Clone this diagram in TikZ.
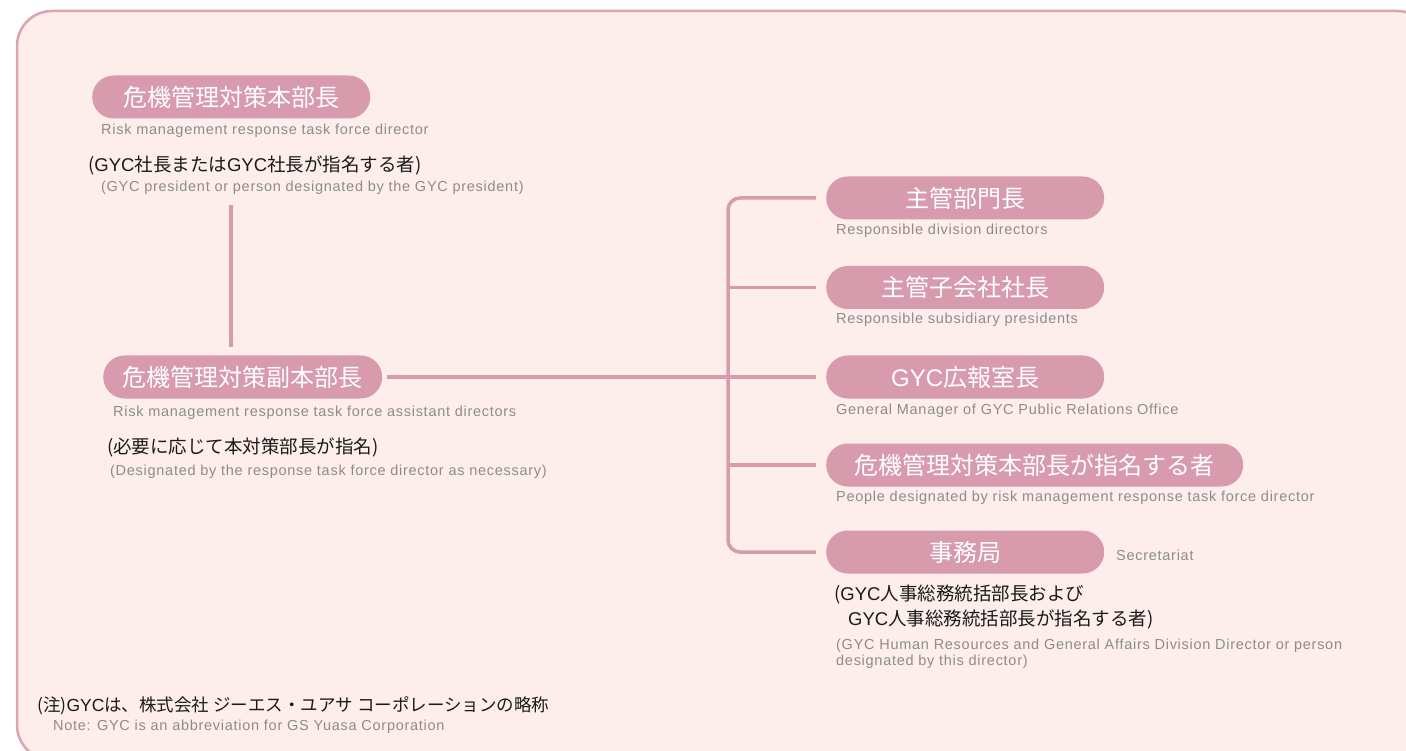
\documentclass[tikz,border=0pt]{standalone}
\usepackage{fontspec}
\setmainfont{Liberation Sans}
\newfontfamily\jp{Noto Sans CJK JP}
\newfontfamily\enf[LetterSpace=5]{Liberation Sans}
\newcommand\gyc{{\rmfamily GYC}}
\definecolor{pk}{HTML}{D79BAD}
\definecolor{frm}{HTML}{DBA3B3}
\definecolor{bgp}{HTML}{FDEEEC}
\definecolor{gr}{HTML}{8C8C8C}
\definecolor{tx}{HTML}{1A1A1A}
\begin{document}
\begin{tikzpicture}[x=1pt,y=-1pt,
  pill/.style={rectangle, rounded corners=21.5pt, fill=pk, text=white, minimum height=43pt, inner sep=0pt, anchor=west, font=\jp\fontsize{24}{26}\selectfont},
  en/.style={anchor=west, inner sep=0pt, text=gr, font=\enf\fontsize{14.5}{17}\selectfont},
  jt/.style={anchor=west, inner sep=0pt, text=tx, font=\jp\fontsize{18.5}{22}\selectfont},
  conn/.style={draw=pk, line width=3.5pt}]
\useasboundingbox (0,0) rectangle (1406,751);
\fill[white] (0,0) rectangle (1406,751);
\begin{scope}
\clip (0,0) rectangle (1406,751);
\draw[frm, fill=bgp, line width=2.5pt, rounded corners=35pt] (17,11) rectangle (1432,760);
\end{scope}
% left column
\node[pill, minimum width=278pt] (dir) at (92,97) {危機管理対策本部長};
\node[en] (dire) at (101,131) {Risk management response task force director};
\node[jt] (dirj) at (88,165) {(\gyc 社長または\gyc 社長が指名する者)};
\node[en] (dirj2) at (101,188) {(GYC president or person designated by the GYC president)};
\node[pill, minimum width=279pt] (vd) at (103,377) {危機管理対策副本部長};
\node[en] (vde) at (113,413) {Risk management response task force assistant directors};
\node[jt] (vdj) at (107,447) {(必要に応じて本対策部長が指名)};
\node[en] (vdj2) at (110,472) {(Designated by the response task force director as necessary)};
\coordinate (vtop) at (231,205);
\coordinate (vbot) at (231,347);
\draw[conn] (vtop) -- (vbot);
% right column
\node[pill, minimum width=278pt] (r1) at (826,198) {主管部門長};
\node[en] (r1e) at (836,231) {Responsible division directors};
\node[pill, minimum width=278pt] (r2) at (826,287.5) {主管子会社社長};
\node[en] (r2e) at (836,320) {Responsible subsidiary presidents};
\node[pill, minimum width=278pt] (r3) at (826,377) {\gyc 広報室長};
\node[en] (r3e) at (836,411) {General Manager of GYC Public Relations Office};
\node[pill, minimum width=417pt] (r4) at (826,465) {危機管理対策本部長が指名する者};
\node[en] (r4e) at (836,498) {People designated by risk management response task force director};
\node[pill, minimum width=278pt] (r5) at (826,552) {事務局};
\node[en] (r5e) at (1116,555) {Secretariat};
\node[jt] (r5j1) at (834,595) {(\gyc 人事総務統括部長および};
\node[jt] (r5j2) at (848,619) {\gyc 人事総務統括部長が指名する者)};
\node[en] (r5n1) at (836,646) {(GYC Human Resources and General Affairs Division Director or person};
\node[en] (r5n2) at (836,662) {designated by this director)};
% connectors
\coordinate (bus) at (728,377);
\draw[conn, rounded corners=12pt] ([xshift=-10pt]r1.west) -| (bus) |- ([xshift=-10pt]r5.west);
\draw[conn] ([xshift=5pt]vd.east) -- ([xshift=-10pt]r3.west);
\draw[conn] (bus |- r2.west) -- ([xshift=-10pt]r2.west);
\draw[conn] (bus |- r4.west) -- ([xshift=-10pt]r4.west);
% footnote
\node[jt, font=\jp\fontsize{17.5}{21}\selectfont] (fn) at (37,706) {(注)\gyc は、株式会社 ジーエス・ユアサ コーポレーションの略称};
\node[en] (fne) at (53,727) {Note: GYC is an abbreviation for GS Yuasa Corporation};
\end{tikzpicture}
\end{document}
